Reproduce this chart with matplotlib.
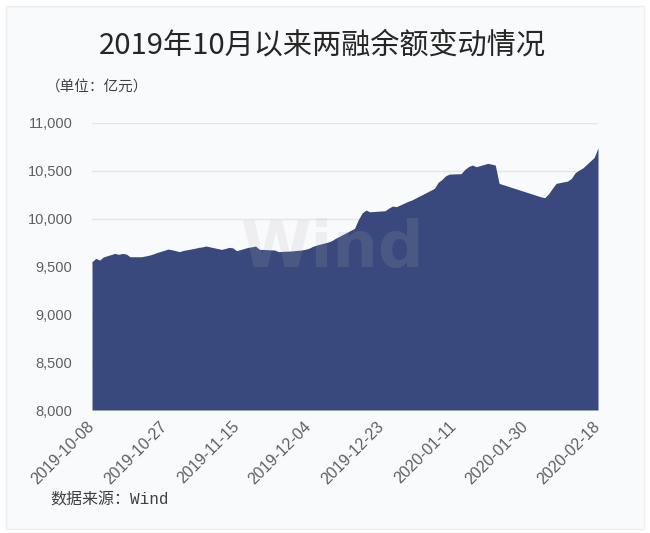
import matplotlib
matplotlib.use("Agg")
import matplotlib.pyplot as plt
from matplotlib.patches import Rectangle
import pandas as pd

dates = [
    "2019-10-08", "2019-10-09", "2019-10-10", "2019-10-11", "2019-10-14", "2019-10-15",
    "2019-10-16", "2019-10-17", "2019-10-18", "2019-10-21", "2019-10-22", "2019-10-23",
    "2019-10-24", "2019-10-25", "2019-10-28", "2019-10-29", "2019-10-30", "2019-10-31",
    "2019-11-01", "2019-11-04", "2019-11-05", "2019-11-06", "2019-11-07", "2019-11-08",
    "2019-11-11", "2019-11-12", "2019-11-13", "2019-11-14", "2019-11-15", "2019-11-18",
    "2019-11-19", "2019-11-20", "2019-11-21", "2019-11-22", "2019-11-25", "2019-11-26",
    "2019-11-27", "2019-11-28", "2019-11-29", "2019-12-02", "2019-12-03", "2019-12-04",
    "2019-12-05", "2019-12-06", "2019-12-09", "2019-12-10", "2019-12-11", "2019-12-12",
    "2019-12-13", "2019-12-16", "2019-12-17", "2019-12-18", "2019-12-19", "2019-12-20",
    "2019-12-23", "2019-12-24", "2019-12-25", "2019-12-26", "2019-12-27", "2019-12-30",
    "2019-12-31", "2020-01-02", "2020-01-03", "2020-01-06", "2020-01-07", "2020-01-08",
    "2020-01-09", "2020-01-10", "2020-01-13", "2020-01-14", "2020-01-15", "2020-01-16",
    "2020-01-17", "2020-01-20", "2020-01-21", "2020-01-22", "2020-01-23", "2020-02-03",
    "2020-02-04", "2020-02-05", "2020-02-06", "2020-02-07", "2020-02-10", "2020-02-11",
    "2020-02-12", "2020-02-13", "2020-02-14", "2020-02-17", "2020-02-18",
]
balance = [
    9550, 9585, 9567, 9600, 9637, 9627,
    9637, 9630, 9602, 9602, 9610, 9618,
    9630, 9645, 9682, 9675, 9665, 9655,
    9668, 9690, 9700, 9705, 9714, 9705,
    9679, 9688, 9700, 9695, 9665, 9700,
    9706, 9714, 9679, 9678, 9672, 9655,
    9658, 9660, 9661, 9672, 9679, 9690,
    9710, 9724, 9755, 9770, 9795, 9815,
    9836, 9899, 9990, 10060, 10090, 10072,
    10080, 10083, 10110, 10132, 10125, 10180,
    10194, 10235, 10255, 10317, 10380, 10411,
    10450, 10466, 10470, 10515, 10545, 10560,
    10543, 10578, 10570, 10560, 10369, 10228,
    10219, 10260, 10317, 10369, 10393, 10421,
    10480, 10508, 10530, 10640, 10740,
]
tick_labels = ["2019-10-08", "2019-10-27", "2019-11-15", "2019-12-04",
               "2019-12-23", "2020-01-11", "2020-01-30", "2020-02-18"]
y_ticks = [8000, 8500, 9000, 9500, 10000, 10500, 11000]

title = "2019年10月以来两融余额变动情况"
unit = "（单位：亿元）"
source = "数据来源：Wind"

x = pd.to_datetime(dates)
xt = pd.to_datetime(tick_labels)

W, H = 650, 533
fig = plt.figure(figsize=(W / 100, H / 100), dpi=100, facecolor="white")
fig.patches.append(Rectangle((6 / W, 4 / H), 638 / W, 523 / H, transform=fig.transFigure,
                             facecolor="#f9fafc", edgecolor="#eceef2", linewidth=1.0, zorder=-5))

ax = fig.add_axes([92 / W, 1 - 410 / H, 506 / W, 287 / H])
ax.set_zorder(2)
ax.set_facecolor("none")
ax.fill_between(x, balance, 8000, color="#39497d", linewidth=0, zorder=2)
ax.set_xlim(xt[0], xt[-1])
ax.set_ylim(8000, 11000)
ax.set_yticks(y_ticks)
ax.set_yticklabels([f"{v:,}" for v in y_ticks], fontfamily="Liberation Sans", fontsize=10.5, color="#606060")
ax.set_xticks(xt)
ax.set_xticklabels(tick_labels, rotation=45, ha="right", va="center", rotation_mode="anchor",
                   fontfamily="Liberation Sans", fontsize=11.5, color="#606060")
ax.tick_params(axis="y", length=0, pad=14)
ax.tick_params(axis="x", length=0, pad=10)
for s in ax.spines.values():
    s.set_visible(False)
ax.grid(axis="y", color="#e3e5e8", linewidth=1.0, zorder=1)
ax.set_axisbelow(True)
ax.text(0.475, 0.56, "Wind", transform=ax.transAxes, ha="center", va="center",
        fontsize=46, fontweight="bold", fontfamily="DejaVu Sans", color="#b0b0b0", alpha=0.15, zorder=3)

fig.text(322 / W, 1 - 45 / H, title, ha="center", va="center", fontsize=21,
         fontfamily=["Noto Sans CJK SC"], color="#262626")
fig.text(46 / W, 1 - 88 / H, unit, ha="left", va="center", fontsize=10.5,
         fontfamily=["Noto Sans CJK SC"], color="#404040")
fig.text(50 / W, 1 - 500 / H, source, ha="left", va="center", fontsize=11.5,
         fontfamily=["Liberation Mono", "Noto Sans CJK SC"], color="#404040")

fig.savefig("out.png", dpi=100, facecolor=fig.get_facecolor())
